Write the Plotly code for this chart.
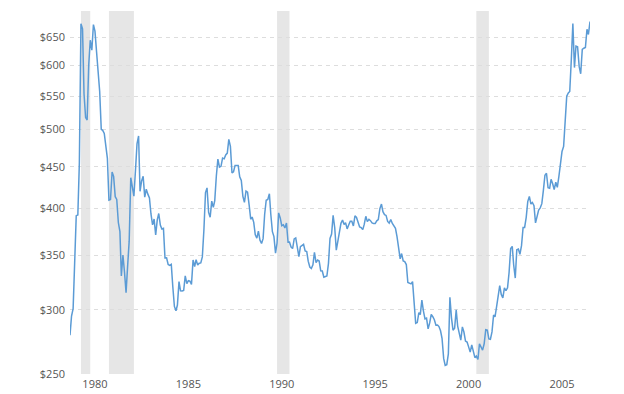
import plotly.graph_objects as go
import pandas as pd

start_month = "1979-06-01"

p1979 = [279.1, 294.7, 300.8, 355.1, 391.7, 392.5, 455.1]
p1980 = [675.3, 665.3, 553.6, 517.4, 513.8, 600.7, 644.3, 626.5, 673.6, 661.2, 623.5, 594.9]
p1981 = [557.6, 500.5, 499.0, 494.5, 479.7, 460.8, 409.3, 410.1, 443.3, 437.8, 413.4, 410.1]
p1982 = [384.2, 374.4, 330.2, 350.4, 333.9, 314.9, 339.1, 364.4, 436.3, 422.7, 414.1, 444.3]
p1983 = [480.3, 491.1, 419.7, 432.3, 438.0, 412.9, 422.2, 416.4, 411.8, 393.6, 381.7, 388.0]
p1984 = [371.0, 387.0, 394.1, 381.4, 377.2, 377.9, 347.4, 347.6, 341.1, 340.2, 341.2, 320.2]
p1985 = [302.8, 299.1, 304.0, 324.9, 316.5, 316.4, 316.8, 330.2, 323.0, 325.8, 325.3, 322.4]
p1986 = [345.4, 339.1, 345.8, 340.5, 342.3, 342.6, 348.5, 376.4, 418.3, 423.8, 395.3, 390.0]
p1987 = [408.3, 401.0, 408.9, 438.4, 460.0, 449.6, 450.6, 461.1, 460.2, 465.4, 467.8, 486.3]
p1988 = [476.7, 442.1, 443.6, 451.6, 451.4, 451.7, 437.3, 432.8, 413.8, 406.9, 420.0, 418.6]
p1989 = [404.0, 387.8, 390.2, 384.3, 371.0, 367.6, 375.0, 365.4, 362.0, 367.0, 393.6, 409.2]
p1990 = [410.1, 416.8, 393.1, 374.3, 369.1, 352.3, 362.5, 394.8, 389.3, 380.7, 381.8, 378.2]
p1991 = [383.6, 363.3, 363.5, 358.4, 356.8, 366.7, 367.7, 356.2, 348.8, 358.8, 359.7, 361.1]
p1992 = [354.5, 353.9, 344.3, 338.6, 337.2, 340.8, 353.1, 342.9, 345.4, 344.4, 335.0, 334.8]
p1993 = [329.0, 329.3, 330.1, 342.2, 367.2, 371.9, 392.0, 378.8, 355.3, 364.2, 373.8, 383.3]
p1994 = [386.9, 381.9, 384.1, 377.3, 381.4, 385.6, 385.5, 380.4, 391.6, 389.8, 384.4, 379.3]
p1995 = [378.6, 376.5, 382.1, 391.0, 385.2, 387.6, 386.2, 383.8, 383.0, 383.1, 386.0, 387.4]
p1996 = [399.5, 404.8, 396.2, 392.9, 392.0, 385.3, 383.5, 387.5, 383.1, 381.1, 377.9, 369.1]
p1997 = [355.0, 346.6, 351.8, 344.5, 343.8, 341.0, 324.1, 323.8, 322.8, 324.9, 306.0, 288.7]
p1998 = [289.3, 297.5, 295.9, 308.3, 299.1, 292.3, 292.9, 284.1, 289.0, 296.0, 294.1, 291.6]
p1999 = [287.1, 287.3, 286.0, 282.6, 276.4, 261.3, 256.1, 256.7, 264.7, 310.7, 293.2, 283.1]
p2000 = [284.6, 299.9, 286.4, 279.7, 275.2, 285.7, 281.6, 274.5, 273.7, 270.0, 266.0, 271.5]
p2001 = [265.5, 261.9, 263.0, 260.5, 272.4, 270.2, 267.5, 272.4, 283.4, 283.1, 276.2, 275.9]
p2002 = [281.7, 295.5, 294.0, 302.7, 314.5, 321.2, 313.3, 310.3, 319.2, 316.6, 319.2, 333.4]
p2003 = [356.9, 359.0, 340.6, 328.2, 355.7, 356.4, 351.0, 359.8, 378.9, 378.9, 389.9, 407.6]
p2004 = [413.8, 404.9, 406.7, 403.0, 383.8, 392.4, 398.1, 400.5, 405.3, 420.5, 439.4, 441.8]
p2005 = [424.0, 423.4, 434.2, 428.9, 421.9, 430.7, 424.5, 437.9, 456.0, 469.9, 476.7, 509.8]
p2006 = [549.9, 555.0, 557.1, 610.6, 675.4, 596.2, 633.8, 632.6, 598.2, 585.8, 627.8, 629.8]
p2007 = [631.2, 664.8, 654.9, 679.4]

prices = (p1979 + p1980 + p1981 + p1982 + p1983 + p1984 + p1985 + p1986 + p1987
          + p1988 + p1989 + p1990 + p1991 + p1992 + p1993 + p1994 + p1995 + p1996
          + p1997 + p1998 + p1999 + p2000 + p2001 + p2002 + p2003 + p2004 + p2005
          + p2006 + p2007)
dates = pd.date_range(start_month, periods=len(prices), freq="MS")

recession_starts = ["1980-01-01", "1981-07-01", "1990-07-01", "2001-03-01"]
recession_ends = ["1980-07-01", "1982-11-01", "1991-03-01", "2001-11-01"]

y_ticks = [250, 300, 350, 400, 450, 500, 550, 600, 650]
x_tick_years = [1980, 1985, 1990, 1995, 2000, 2005]

fig = go.Figure()
fig.add_trace(go.Scatter(x=dates, y=prices, mode="lines",
                         line=dict(color="#5b9bd5", width=1.5),
                         hoverinfo="x+y", showlegend=False))

for s, e in zip(recession_starts, recession_ends):
    fig.add_shape(type="rect", xref="x", yref="paper", x0=s, x1=e, y0=0, y1=1,
                  fillcolor="#e6e6e6", line=dict(width=0), layer="below")

fig.update_layout(
    template="none",
    width=624, height=394,
    margin=dict(l=70, r=34, t=11, b=20, pad=0),
    paper_bgcolor="white", plot_bgcolor="white",
    font=dict(family="Open Sans, Verdana, sans-serif", size=11, color="#555555"),
    showlegend=False,
)
fig.update_xaxes(
    type="date", automargin=False,
    range=[dates[0], dates[-1]],
    tickvals=[f"{y}-01-01" for y in x_tick_years],
    ticktext=[str(y) for y in x_tick_years],
    ticks="", showgrid=False, zeroline=False, showline=False,
    ticklabelshift=14, ticklabelstandoff=2,
)
fig.update_yaxes(
    type="log", automargin=False,
    range=[2.39794, 2.8451],
    tickvals=y_ticks,
    ticktext=[f"${v}" for v in y_ticks],
    ticks="", showgrid=True, gridcolor="#dddddd", griddash="4px,4px", gridwidth=1,
    zeroline=False, showline=False, ticklabelstandoff=4,
)

fig.write_html("out.html", config={"displayModeBar": False},
               post_script="document.body.style.margin='0';document.body.style.overflow='hidden';")
